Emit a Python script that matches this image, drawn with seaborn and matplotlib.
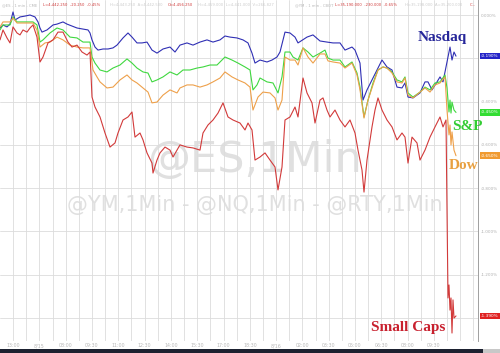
import matplotlib
matplotlib.use("Agg")
import matplotlib.pyplot as plt
import matplotlib.transforms as mtransforms
from matplotlib.patches import Rectangle
import numpy as np
import pandas as pd
import seaborn as sns

# ---------------- data (percent change) ----------------
t_nasdaq = [0, 3, 7, 10, 13, 15, 20, 25, 30, 35,
            38, 40, 42, 47, 53, 57, 63, 67, 72, 77,
            83, 88, 90, 92, 95, 98, 103, 108, 113, 117,
            123, 128, 132, 137, 142, 147, 152, 157, 163, 170,
            175, 180, 187, 193, 200, 207, 213, 220, 225, 230,
            237, 243, 248, 252, 255, 260, 267, 272, 277, 280,
            285, 290, 295, 298, 307, 313, 320, 327, 333, 340,
            345, 352, 355, 360, 363, 367, 372, 377, 382, 387,
            392, 397, 402, 405, 408, 413, 420, 425, 428, 432,
            437, 440, 443, 445, 447, 449, 450, 452, 454, 456]
nasdaq = [-0.060, -0.046, -0.055, -0.042, 0.014, -0.023, -0.009, -0.005, 0.000, -0.009,
          -0.032, -0.060, -0.079, -0.069, -0.046, -0.042, -0.032, -0.042, -0.051, -0.060,
          -0.065, -0.069, -0.083, -0.115, -0.148, -0.162, -0.157, -0.157, -0.152, -0.139,
          -0.106, -0.083, -0.102, -0.129, -0.129, -0.125, -0.162, -0.176, -0.157, -0.148,
          -0.171, -0.139, -0.129, -0.139, -0.125, -0.115, -0.125, -0.115, -0.097, -0.102,
          -0.106, -0.115, -0.129, -0.176, -0.222, -0.208, -0.217, -0.208, -0.194, -0.171,
          -0.079, -0.083, -0.102, -0.129, -0.102, -0.092, -0.120, -0.125, -0.129, -0.129,
          -0.162, -0.148, -0.162, -0.222, -0.393, -0.346, -0.300, -0.254, -0.208, -0.240,
          -0.254, -0.333, -0.337, -0.314, -0.379, -0.383, -0.360, -0.309, -0.309, -0.346,
          -0.309, -0.286, -0.309, -0.263, -0.217, -0.171, -0.148, -0.208, -0.171, -0.190]

t_sp = [0, 3, 10, 13, 17, 25, 33, 37, 40, 43,
        50, 57, 63, 70, 77, 83, 90, 92, 95, 100,
        107, 113, 120, 127, 132, 137, 143, 148, 152, 157,
        163, 170, 177, 183, 190, 197, 203, 210, 217, 225,
        232, 238, 245, 250, 253, 257, 260, 267, 273, 278,
        282, 285, 290, 293, 298, 303, 308, 313, 320, 325,
        328, 333, 340, 345, 352, 357, 360, 364, 368, 373,
        378, 383, 387, 392, 397, 402, 405, 408, 413, 420,
        425, 430, 435, 440, 445, 447, 449, 450, 451, 452,
        454, 456]
sp = [-0.069, -0.046, -0.046, -0.009, -0.032, -0.032, -0.032, -0.046, -0.125, -0.115,
      -0.083, -0.060, -0.069, -0.102, -0.106, -0.125, -0.125, -0.194, -0.222, -0.254,
      -0.263, -0.245, -0.231, -0.203, -0.222, -0.245, -0.263, -0.268, -0.309, -0.300,
      -0.286, -0.263, -0.277, -0.254, -0.254, -0.245, -0.240, -0.231, -0.231, -0.194,
      -0.208, -0.222, -0.240, -0.254, -0.346, -0.323, -0.291, -0.309, -0.314, -0.360,
      -0.286, -0.171, -0.171, -0.194, -0.208, -0.152, -0.171, -0.194, -0.176, -0.162,
      -0.199, -0.208, -0.208, -0.240, -0.217, -0.268, -0.333, -0.471, -0.393, -0.314,
      -0.254, -0.240, -0.245, -0.263, -0.300, -0.309, -0.286, -0.360, -0.379, -0.356,
      -0.333, -0.346, -0.314, -0.309, -0.277, -0.337, -0.448, -0.393, -0.453, -0.402,
      -0.439, -0.450]

t_dow = [0, 3, 10, 13, 17, 25, 33, 37, 40, 45,
         50, 57, 63, 70, 77, 83, 90, 93, 97, 100,
         107, 113, 120, 127, 132, 137, 143, 148, 152, 157,
         163, 170, 177, 180, 187, 193, 200, 207, 213, 220,
         225, 232, 238, 245, 250, 253, 258, 263, 270, 275,
         278, 282, 285, 290, 295, 298, 303, 308, 313, 320,
         325, 328, 333, 340, 345, 352, 357, 360, 364, 368,
         373, 378, 383, 387, 392, 397, 402, 405, 408, 413,
         420, 425, 430, 435, 440, 445, 447, 449, 450, 451,
         452, 454, 456]
dow = [-0.055, -0.032, -0.032, -0.014, -0.037, -0.037, -0.037, -0.069, -0.148, -0.129,
       -0.125, -0.102, -0.115, -0.139, -0.148, -0.152, -0.152, -0.254, -0.286, -0.309,
       -0.337, -0.333, -0.300, -0.277, -0.300, -0.314, -0.337, -0.356, -0.406, -0.402,
       -0.370, -0.346, -0.360, -0.337, -0.323, -0.323, -0.333, -0.323, -0.309, -0.291,
       -0.263, -0.286, -0.300, -0.314, -0.333, -0.439, -0.379, -0.356, -0.360, -0.383,
       -0.439, -0.393, -0.194, -0.208, -0.208, -0.231, -0.152, -0.194, -0.222, -0.180,
       -0.180, -0.212, -0.217, -0.222, -0.245, -0.222, -0.277, -0.346, -0.476, -0.393,
       -0.323, -0.254, -0.240, -0.245, -0.268, -0.309, -0.314, -0.291, -0.370, -0.383,
       -0.356, -0.337, -0.356, -0.323, -0.314, -0.286, -0.439, -0.554, -0.508, -0.600,
       -0.540, -0.624, -0.650]

t_rty = [0, 3, 7, 10, 13, 17, 20, 23, 27, 30,
         33, 37, 40, 43, 48, 53, 58, 63, 68, 72,
         77, 82, 87, 90, 92, 95, 100, 105, 110, 115,
         118, 123, 128, 132, 135, 140, 143, 147, 152, 153,
         157, 160, 165, 170, 173, 180, 187, 193, 200, 203,
         208, 213, 218, 223, 228, 233, 240, 245, 248, 252,
         255, 260, 265, 270, 275, 278, 282, 285, 290, 295,
         298, 303, 307, 312, 315, 320, 323, 327, 330, 335,
         340, 345, 350, 355, 358, 362, 364, 367, 372, 375,
         378, 382, 387, 392, 397, 402, 405, 408, 412, 417,
         420, 425, 430, 435, 440, 443, 446, 448, 449, 450,
         451, 452, 453, 454, 456]
rty = [-0.115, -0.069, -0.106, -0.129, -0.055, -0.083, -0.092, -0.069, -0.079, -0.060,
       -0.046, -0.102, -0.217, -0.194, -0.129, -0.115, -0.079, -0.079, -0.125, -0.148,
       -0.139, -0.171, -0.185, -0.171, -0.379, -0.425, -0.471, -0.545, -0.610, -0.591,
       -0.545, -0.485, -0.471, -0.448, -0.564, -0.545, -0.577, -0.637, -0.684, -0.730,
       -0.670, -0.637, -0.610, -0.624, -0.656, -0.600, -0.610, -0.614, -0.624, -0.545,
       -0.508, -0.485, -0.453, -0.406, -0.471, -0.485, -0.499, -0.531, -0.499, -0.531,
       -0.670, -0.656, -0.637, -0.670, -0.702, -0.808, -0.702, -0.485, -0.471, -0.425,
       -0.471, -0.291, -0.360, -0.406, -0.499, -0.393, -0.383, -0.439, -0.471, -0.439,
       -0.485, -0.517, -0.485, -0.545, -0.624, -0.716, -0.818, -0.670, -0.517, -0.439,
       -0.383, -0.439, -0.485, -0.517, -0.577, -0.545, -0.564, -0.684, -0.564, -0.591,
       -0.670, -0.624, -0.564, -0.517, -0.471, -0.517, -0.485, -1.307, -1.247, -1.363,
       -1.307, -1.469, -1.316, -1.400, -1.390]

series_names = ["Nasdaq", "S&P", "Dow", "Small Caps"]
last_values = [-0.190, -0.450, -0.650, -1.390]
y_ticks = [0.0, -0.2, -0.4, -0.6, -0.8, -1.0, -1.2, -1.4]
y_labels = ["0.000%", "", "-0.400%", "-0.600%", "-0.800%", "-1.000%", "-1.200%", ""]
time_labels = ["13:00", "8/15", "08:00", "09:30", "11:00", "12:30", "14:00",
               "15:30", "17:00", "18:30", "8/16", "02:00", "03:30", "05:00",
               "06:30", "08:00", "09:30"]

line_colors = {"Nasdaq": "#2f2fb4", "S&P": "#3fd83f", "Dow": "#eea04a", "Small Caps": "#d23a3a"}
box_colors = {"Nasdaq": "#2424c8", "S&P": "#33dd33", "Dow": "#f09a30", "Small Caps": "#e02222"}
text_colors = {"Nasdaq": "#27279a", "S&P": "#33cc33", "Dow": "#e8a040", "Small Caps": "#c8202e"}

df = pd.concat([
    pd.DataFrame({"t": t_nasdaq, "pct": nasdaq, "index": "Nasdaq"}),
    pd.DataFrame({"t": t_sp, "pct": sp, "index": "S&P"}),
    pd.DataFrame({"t": t_dow, "pct": dow, "index": "Dow"}),
    pd.DataFrame({"t": t_rty, "pct": rty, "index": "Small Caps"}),
], ignore_index=True)

# ---------------- figure ----------------
sns.set_theme(style="white")
plt.rcParams["font.family"] = ["DejaVu Sans"]

W, H = 500, 353
fig = plt.figure(figsize=(W / 100, H / 100), dpi=100)
fig.patch.set_facecolor("white")
ax = fig.add_axes([0, 12 / H, 478 / W, 1 - 12 / H])
ax.set_facecolor("white")

# watermark
ax.text(0.533, 0.531, "@ES,1Min", transform=ax.transAxes, ha="center", va="center",
        fontsize=31, color="#e0e0e0", zorder=0)
ax.text(0.533, 0.399, "@YM,1Min - @NQ,1Min - @RTY,1Min", transform=ax.transAxes,
        ha="center", va="center", fontsize=15, color="#e0e0e0", zorder=0)

sns.lineplot(data=df, x="t", y="pct", hue="index", palette=line_colors,
             estimator=None, sort=False, legend=False, linewidth=0.8, ax=ax, zorder=3)

ax.set_xlim(0, 478)
ax.set_ylim(-1.5058, 0.0693)
grid_step = 13.15
grid_pos = [grid_step * k for k in range(1, 37)]
ax.set_xticks(grid_pos)
labels = []
li = 0
for k in range(1, 37):
    if k % 2 == 1 and li < len(time_labels):
        labels.append(time_labels[li]); li += 1
    else:
        labels.append("")
ax.set_xticklabels(labels)
ax.set_yticks(y_ticks)
ax.set_yticklabels(y_labels)
ax.yaxis.tick_right()
ax.tick_params(axis="x", length=0, pad=1.5, labelsize=3.4, labelcolor="#b8b8b8")
ax.tick_params(axis="y", length=0, pad=2.2, labelsize=3.0, labelcolor="#b0b0b0")
ax.grid(True, color="#dcdcdc", linewidth=0.6, zorder=1)
ax.set_xlabel("")
ax.set_ylabel("")
for s in ["top", "left", "bottom"]:
    ax.spines[s].set_visible(False)
ax.spines["right"].set_color("#a0a0a0")
ax.spines["right"].set_linewidth(0.7)

# last value boxes
trans = mtransforms.blended_transform_factory(ax.transAxes, ax.transData)
for name, v in zip(series_names, last_values):
    ax.text(1.006, v, f"{v:.3f}%", transform=trans, ha="left", va="center",
            fontsize=3.1, color="white", zorder=6, clip_on=False,
            bbox=dict(boxstyle="square,pad=0.3", fc=box_colors[name], ec="none"))

# series annotations
serif = dict(family=["Liberation Serif", "DejaVu Serif"], weight="bold", fontsize=11)
ax.text(0.925, 0.889, "Nasdaq", transform=ax.transAxes, ha="center", va="center",
        color=text_colors["Nasdaq"], zorder=7, **serif)
ax.text(0.977, 0.628, "S&P", transform=ax.transAxes, ha="center", va="center",
        color=text_colors["S&P"], zorder=7, **serif)
ax.text(0.969, 0.516, "Dow", transform=ax.transAxes, ha="center", va="center",
        color=text_colors["Dow"], zorder=7, **serif)
ax.text(0.854, 0.041, "Small Caps", transform=ax.transAxes, ha="center", va="center",
        color=text_colors["Small Caps"], zorder=7, **serif)

# header line
hdr = [
    (2, "@ES - 1 min - CME", "#b8b8b8"),
    (43, "L=4,442.250  -20.250  -0.45%", "#d03a3a"),
    (110, "H=4,443.250  A=4,442.500", "#cccccc"),
    (168, "O=4,456.250", "#d03a3a"),
    (198, "H=4,459.000  L=4,441.000  V=266,827", "#cccccc"),
    (295, "@YM - 1 min - CBOT", "#b8b8b8"),
    (335, "L=35,190.000  -230.000  -0.65%", "#d03a3a"),
    (405, "H=35,198.000  A=35,200.000", "#cccccc"),
    (470, "C...", "#d03a3a"),
]
for x, s, c in hdr:
    fig.text(x / W, 1 - 5 / H, s, fontsize=2.7, color=c, ha="left", va="center")

# bottom bar
fig.patches.append(Rectangle((0, 0), 483 / W, 4 / H, transform=fig.transFigure,
                             fc="#1c2130", ec="none"))
fig.patches.append(Rectangle((483 / W, 0), 17 / W, 4 / H, transform=fig.transFigure,
                             fc="#c8c8c8", ec="none"))

fig.savefig("out.png", dpi=100)
